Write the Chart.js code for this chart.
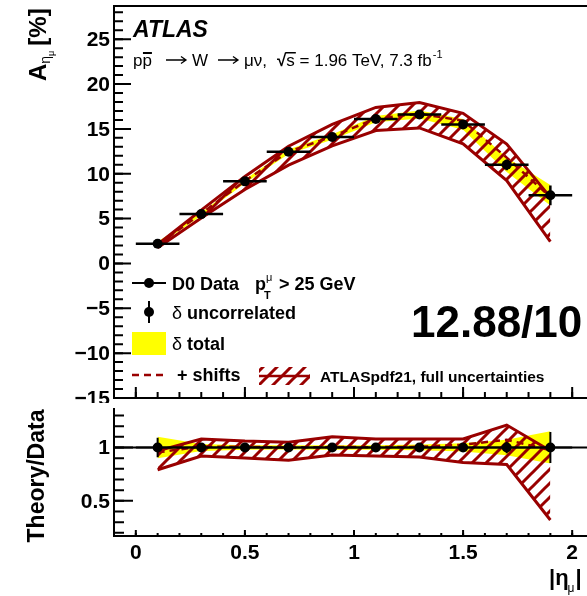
<!DOCTYPE html>
<html>
<head>
<meta charset="utf-8">
<script src="https://cdn.jsdelivr.net/npm/chart.js@4.4.1/dist/chart.umd.min.js"></script>
<style>
  html, body { margin: 0; padding: 0; background: #fff; overflow: hidden; }
  #wrap { position: relative; width: 587px; height: 596px; overflow: hidden; background: #fff; }
  canvas { position: absolute; left: 0; }
  #asym { top: 0; }
  #ratio { top: 403px; }
</style>
</head>
<body>
<div id="wrap">
  <canvas id="asym" width="600" height="403"></canvas>
  <canvas id="ratio" width="600" height="193"></canvas>
</div>
<script>
// --- data (A in %) ---
const etaCenters   = [0.1, 0.3, 0.5, 0.7, 0.9, 1.1, 1.3, 1.5, 1.7, 1.9];
const etaHalfWidth = [0.1, 0.1, 0.1, 0.1, 0.1, 0.1, 0.1, 0.1, 0.1, 0.1];
const asymData     = [2.2, 5.5, 9.15, 12.45, 14.1, 16.1, 16.6, 15.5, 11.0, 7.6];
const errUncorr    = [0.2, 0.15, 0.15, 0.15, 0.2, 0.2, 0.25, 0.35, 0.6, 1.1];
const errTotal     = [0.22, 0.18, 0.2, 0.25, 0.3, 0.35, 0.45, 0.6, 0.8, 1.15];
const asymShifted  = [2.1, 5.55, 9.2, 12.45, 14.15, 16.15, 16.7, 15.9, 11.8, 7.4];
const theoryUp     = [2.13, 5.94, 9.7, 13.07, 15.51, 17.39, 17.93, 16.74, 13.31, 7.37];
const theoryDown   = [1.74, 5.06, 8.24, 10.96, 13.11, 14.81, 15.11, 13.33, 9.24, 2.43];

const xTickLabels     = [0, 0.5, 1, 1.5, 2];
const yTickLabelsTop  = [-15, -10, -5, 0, 5, 10, 15, 20, 25];
const yTickLabelsRat  = [0.5, 1];
const chi2Text = '12.88/10';

const FONT = '"Liberation Sans", Arial, Helvetica, sans-serif';
const DARK_RED = '#990000';
const YELLOW = '#ffff00';

Chart.defaults.font.family = FONT;

// hatch fill like ROOT's "////" style
function makeHatch() {
    const s = 14;
    const c = document.createElement('canvas');
    c.width = s; c.height = s;
    const g = c.getContext('2d');
    g.strokeStyle = DARK_RED;
    g.lineWidth = 3;
    g.beginPath();
    g.moveTo(-2, s + 2); g.lineTo(s + 2, -2);
    g.moveTo(-3, 3); g.lineTo(3, -3);
    g.moveTo(s - 3, s + 3); g.lineTo(s + 3, s - 3);
    g.stroke();
    return document.getElementById('asym').getContext('2d').createPattern(c, 'repeat');
}
const hatch = makeHatch();

const pts = ys => etaCenters.map((x, i) => ({ x, y: ys[i] }));

// inward ticks; horizontal = ticks on an x axis at pixel "base"
function drawTicks(ctx, scale, step, len, horizontal, base) {
    const k0 = Math.ceil(scale.min / step - 1e-6);
    const k1 = Math.floor(scale.max / step + 1e-6);
    ctx.beginPath();
    for (let k = k0; k <= k1; k++) {
        const p = scale.getPixelForValue(k * step);
        if (horizontal) { ctx.moveTo(p, base); ctx.lineTo(p, base - len); }
        else { ctx.moveTo(base, p); ctx.lineTo(base + len, p); }
    }
    ctx.stroke();
}

// write pieces of text one after another: [text, font, dy]
function runText(ctx, x, y, parts) {
    for (const [t, f, dy] of parts) {
        ctx.font = f;
        ctx.fillText(t, x, y + (dy || 0));
        x += ctx.measureText(t).width;
    }
    return x;
}

// ROOT-like long arrow
function arrow(ctx, x0, x1, y) {
    ctx.save();
    ctx.lineWidth = 1.3;
    ctx.beginPath();
    ctx.moveTo(x0, y); ctx.lineTo(x1, y);
    ctx.moveTo(x1 - 5, y - 3.5); ctx.lineTo(x1, y); ctx.lineTo(x1 - 5, y + 3.5);
    ctx.stroke();
    ctx.restore();
}

function errorBars(ctx, xs, ys, vals, errs, lw) {
    ctx.save();
    ctx.strokeStyle = '#000';
    ctx.lineWidth = lw;
    etaCenters.forEach((e, i) => {
        const px = xs.getPixelForValue(e), py = ys.getPixelForValue(vals[i]);
        ctx.beginPath();
        ctx.moveTo(xs.getPixelForValue(e - etaHalfWidth[i]), py);
        ctx.lineTo(xs.getPixelForValue(e + etaHalfWidth[i]), py);
        ctx.moveTo(px, ys.getPixelForValue(vals[i] - errs[i]));
        ctx.lineTo(px, ys.getPixelForValue(vals[i] + errs[i]));
        ctx.stroke();
    });
    ctx.restore();
}

// --- upper pad: asymmetry ---
const asymDecor = {
    id: 'asymDecor',
    afterDatasetsDraw(chart) {
        const { ctx, scales: { x, y } } = chart;
        errorBars(ctx, x, y, asymData, errUncorr, 2.5);
    },
    afterDraw(chart) {
        const { ctx, chartArea: a, scales: { x, y } } = chart;
        ctx.save();
        ctx.strokeStyle = '#000';
        ctx.fillStyle = '#000';
        ctx.lineWidth = 2;
        ctx.strokeRect(a.left, a.top, a.right - a.left, a.bottom - a.top);
        drawTicks(ctx, y, 5, 17, false, a.left);
        drawTicks(ctx, y, 1, 9, false, a.left);
        drawTicks(ctx, x, 0.5, 11, true, a.bottom);
        drawTicks(ctx, x, 0.1, 6, true, a.bottom);

        ctx.font = 'bold 21px ' + FONT;
        ctx.textAlign = 'right';
        ctx.textBaseline = 'middle';
        yTickLabelsTop.forEach(v => {
            ctx.fillText(String(v).replace('-', '\u2212'), 110, y.getPixelForValue(v) + 1);
        });

        // y title
        ctx.save();
        ctx.translate(46, 81);
        ctx.rotate(-Math.PI / 2);
        ctx.textAlign = 'left';
        ctx.textBaseline = 'alphabetic';
        let tx = runText(ctx, 0, 0, [['A', 'bold 24px ' + FONT]]);
        tx = runText(ctx, tx, 0, [['\u03b7', '14px ' + FONT, 4]]);
        tx = runText(ctx, tx, 0, [['\u03bc', '9px ' + FONT, 8]]);
        runText(ctx, tx + 5, 0, [['[%]', 'bold 24px ' + FONT]]);
        ctx.restore();

        ctx.textAlign = 'left';
        ctx.textBaseline = 'alphabetic';
        // ATLAS label and process
        ctx.font = 'italic bold 23px ' + FONT;
        ctx.fillText('ATLAS', 133, 37);

        const f17 = '17px ' + FONT;
        ctx.font = f17;
        let px = 133;
        const pw = ctx.measureText('p').width;
        ctx.fillText('p', px, 66); px += pw;
        ctx.fillText('p', px, 66);
        ctx.fillRect(px + 0.5, 52, pw - 0.5, 2);
        arrow(ctx, 166, 186, 60);
        runText(ctx, 192, 66, [['W', f17]]);
        arrow(ctx, 218, 238, 60);
        runText(ctx, 244, 66, [['\u03bc\u03bd,', f17]]);
        px = runText(ctx, 277, 66, [['\u221a', 'bold 17px ' + FONT]]);
        ctx.font = f17;
        const sw = ctx.measureText('s').width;
        ctx.fillRect(px - 1, 52, sw + 2, 1.5);
        px = runText(ctx, px, 66, [['s = 1.96 TeV, 7.3 fb', f17]]);
        runText(ctx, px + 1, 66, [['-1', '11px ' + FONT, -8]]);

        // chi2 / ndf
        ctx.font = 'bold 44px ' + FONT;
        ctx.fillText(chi2Text, 411, 337);

        // legend
        const fb = 'bold 18px ' + FONT, fr = '18px ' + FONT;
        ctx.lineWidth = 2;
        ctx.beginPath(); ctx.moveTo(132, 283); ctx.lineTo(166, 283); ctx.stroke();
        ctx.beginPath(); ctx.arc(149, 283, 5, 0, Math.PI * 2); ctx.fill();
        runText(ctx, 172, 290, [['D0 Data', fb]]);
        runText(ctx, 255, 290, [['p', fb]]);
        runText(ctx, 266, 281, [['\u03bc', '11px ' + FONT]]);
        runText(ctx, 264, 299, [['T', 'bold 11px ' + FONT]]);
        runText(ctx, 279, 290, [['> 25 GeV', fb]]);

        ctx.beginPath(); ctx.moveTo(149, 301); ctx.lineTo(149, 323); ctx.stroke();
        ctx.beginPath(); ctx.arc(149, 312, 5, 0, Math.PI * 2); ctx.fill();
        runText(ctx, 172, 319, [['\u03b4 ', fr], ['uncorrelated', fb]]);

        ctx.fillStyle = YELLOW;
        ctx.fillRect(132, 332, 34, 23);
        ctx.fillStyle = '#000';
        runText(ctx, 172, 350, [['\u03b4 ', fr], ['total', fb]]);

        ctx.strokeStyle = DARK_RED;
        ctx.lineWidth = 2.5;
        ctx.setLineDash([7, 5]);
        ctx.beginPath(); ctx.moveTo(132, 375); ctx.lineTo(166, 375); ctx.stroke();
        ctx.setLineDash([]);
        runText(ctx, 177, 381, [['+ shifts', fb]]);

        ctx.fillStyle = hatch;
        ctx.fillRect(259, 367, 51, 18);
        ctx.beginPath(); ctx.moveTo(259, 376); ctx.lineTo(310, 376); ctx.stroke();
        ctx.fillStyle = '#000';
        runText(ctx, 320, 382, [['ATLASpdf21, full uncertainties', 'bold 15.5px ' + FONT]]);
        ctx.restore();
    }
};

const bandUp = asymData.map((v, i) => v + errTotal[i]);
const bandDn = asymData.map((v, i) => v - errTotal[i]);

const lineDs = (data, extra) => Object.assign({
    data, pointRadius: 0, borderWidth: 0, borderColor: 'rgba(0,0,0,0)',
    tension: 0, fill: false
}, extra);

const commonOpts = (ymin, ymax, padding) => ({
    responsive: false,
    animation: false,
    events: [],
    layout: { padding },
    plugins: { legend: { display: false }, tooltip: { enabled: false } },
    scales: {
        x: { type: 'linear', min: -0.1, max: 2.1, display: false },
        y: { type: 'linear', min: ymin, max: ymax, display: false }
    }
});

new Chart(document.getElementById('asym'), {
    type: 'line',
    data: {
        datasets: [
            lineDs(pts(asymData), { label: 'D0 Data', showLine: false, pointRadius: 5, pointBackgroundColor: '#000', pointBorderWidth: 0, order: 0 }),
            lineDs(pts(asymShifted), { label: '+ shifts', borderColor: DARK_RED, borderWidth: 2.5, borderDash: [7, 5], order: 1 }),
            lineDs(pts(theoryUp), { label: 'ATLASpdf21', borderColor: DARK_RED, borderWidth: 3, fill: '+1', backgroundColor: hatch, order: 2 }),
            lineDs(pts(theoryDown), { borderColor: DARK_RED, borderWidth: 3, order: 3 }),
            lineDs(pts(bandUp), { label: 'total', fill: '+1', backgroundColor: YELLOW, order: 4 }),
            lineDs(pts(bandDn), { order: 5 })
        ]
    },
    options: commonOpts(-15, 28.7, { left: 114, top: 6, right: 6, bottom: 2 }),
    plugins: [asymDecor]
});

// --- lower pad: theory / data ---
const ratio = arr => arr.map((v, i) => v / asymData[i]);
const ones = asymData.map(() => 1);

const ratioDecor = {
    id: 'ratioDecor',
    afterDatasetsDraw(chart) {
        const { ctx, chartArea: a, scales: { x, y } } = chart;
        ctx.save();
        ctx.strokeStyle = '#000';
        ctx.lineWidth = 2;
        const p1 = y.getPixelForValue(1);
        ctx.beginPath(); ctx.moveTo(a.left, p1); ctx.lineTo(a.right, p1); ctx.stroke();
        ctx.restore();
        errorBars(ctx, x, y, ones, ratio(errUncorr), 2);
    },
    afterDraw(chart) {
        const { ctx, chartArea: a, scales: { x, y } } = chart;
        ctx.save();
        ctx.strokeStyle = '#000';
        ctx.fillStyle = '#000';
        ctx.lineWidth = 2;
        ctx.beginPath();
        ctx.moveTo(a.left, a.top); ctx.lineTo(a.left, a.bottom); ctx.lineTo(a.right, a.bottom);
        ctx.stroke();
        drawTicks(ctx, y, 0.5, 19, false, a.left);
        drawTicks(ctx, y, 0.1, 10, false, a.left);
        drawTicks(ctx, x, 0.5, 6, true, a.bottom);
        drawTicks(ctx, x, 0.1, 3, true, a.bottom);

        ctx.font = 'bold 21px ' + FONT;
        ctx.textAlign = 'right';
        ctx.textBaseline = 'middle';
        yTickLabelsRat.forEach(v => ctx.fillText(String(v), 110, y.getPixelForValue(v) + 1));
        ctx.textAlign = 'center';
        ctx.textBaseline = 'alphabetic';
        xTickLabels.forEach(v => ctx.fillText(String(v), x.getPixelForValue(v), 156));

        // y title
        ctx.save();
        ctx.translate(44, 73);
        ctx.rotate(-Math.PI / 2);
        ctx.font = 'bold 23px ' + FONT;
        ctx.fillText('Theory/Data', 0, 0);
        ctx.restore();

        // x title |eta_mu|
        ctx.textAlign = 'left';
        let tx = runText(ctx, 549, 182, [['|\u03b7', 'bold 22px ' + FONT]]);
        tx = runText(ctx, tx - 1, 182, [['\u03bc', '12px ' + FONT, 7]]);
        runText(ctx, tx + 1, 182, [['|', 'bold 22px ' + FONT]]);
        ctx.restore();
    }
};

new Chart(document.getElementById('ratio'), {
    type: 'line',
    data: {
        datasets: [
            lineDs(pts(ones), { showLine: false, pointRadius: 5, pointBackgroundColor: '#000', pointBorderWidth: 0, order: 0 }),
            lineDs(pts(ratio(asymShifted)), { borderColor: DARK_RED, borderWidth: 2.5, borderDash: [7, 5], order: 1 }),
            lineDs(pts(ratio(theoryUp)), { borderColor: DARK_RED, borderWidth: 3, fill: '+1', backgroundColor: hatch, order: 2 }),
            lineDs(pts(ratio(theoryDown)), { borderColor: DARK_RED, borderWidth: 3, order: 3 }),
            lineDs(pts(ratio(bandUp)), { fill: '+1', backgroundColor: YELLOW, order: 4 }),
            lineDs(pts(ratio(bandDn)), { order: 5 })
        ]
    },
    options: commonOpts(0.17, 1.37, { left: 114, top: 1, right: 6, bottom: 60 }),
    plugins: [ratioDecor]
});
</script>
</body>
</html>
